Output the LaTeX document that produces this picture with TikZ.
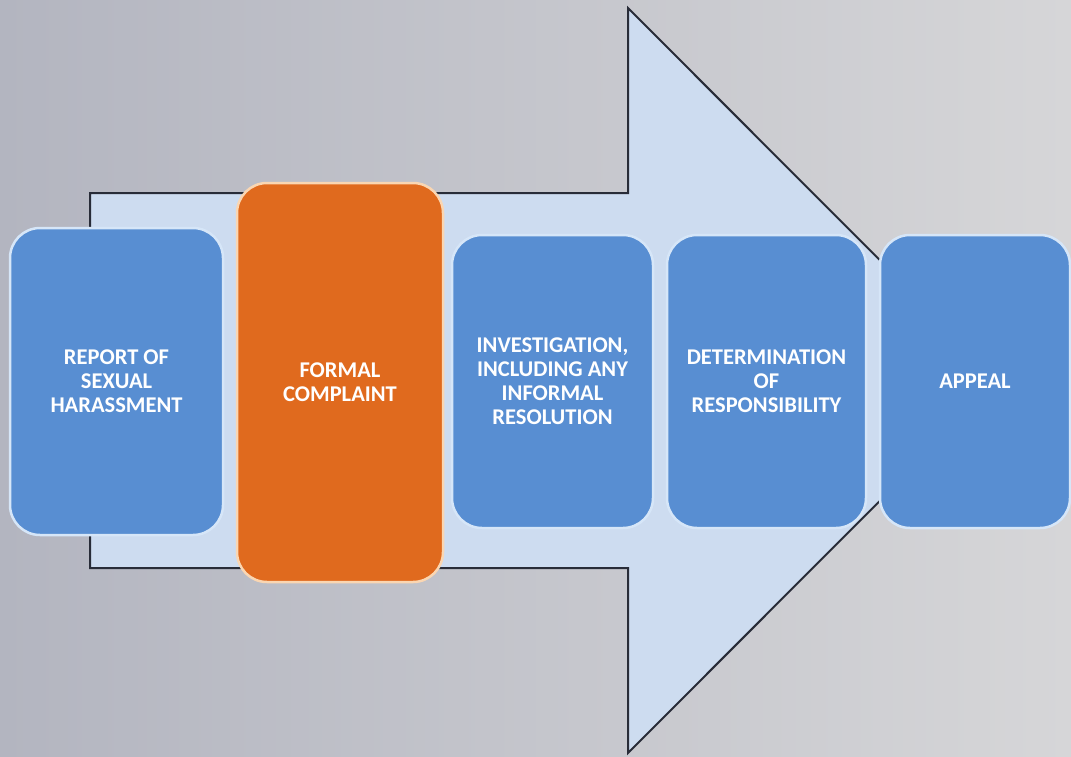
\documentclass[tikz,border=0pt]{standalone}
\usepackage{fontspec}
\setmainfont{Carlito}
\usetikzlibrary{positioning}

\definecolor{bgleft}{RGB}{179,181,192}
\definecolor{bgright}{RGB}{214,214,216}
\definecolor{arrowfill}{RGB}{205,220,240}
\definecolor{arrowline}{RGB}{40,44,56}
\definecolor{stepblue}{RGB}{88,142,210}
\definecolor{stepedge}{RGB}{214,230,248}
\definecolor{steporange}{RGB}{224,106,30}
\definecolor{orangeedge}{RGB}{250,214,178}

\tikzset{
  stepbox/.style={draw=stepedge, line width=2.5pt, fill=stepblue, rounded corners=30pt,
    text=white, font=\fontsize{22.5}{24}\selectfont\bfseries, align=center,
    minimum height=293pt, inner sep=0pt},
  hotbox/.style={stepbox, draw=orangeedge, fill=steporange}
}

\begin{document}
\begin{tikzpicture}[x=1pt,y=-1pt]

  % background
  \shade[left color=bgleft, right color=bgright] (0,0) rectangle (1071,756);
  \useasboundingbox (0,0) rectangle (1071,756);

  % big arrow
  \draw[fill=arrowfill, draw=arrowline, line width=2pt, line join=miter]
    (90,193) -- (628,193) -- (628,8) -- (1000,380.5) -- (628,753) -- (628,568) -- (90,568) -- cycle;

  % the steps
  \node[stepbox, minimum width=213pt, minimum height=307pt] (report) at (116.5,381.5)
    {REPORT OF\\SEXUAL\\HARASSMENT};
  \node[hotbox, minimum width=206pt, minimum height=399pt] (complaint) at (340,382.5)
    {FORMAL\\COMPLAINT};
  \node[stepbox, minimum width=201pt] (investigation) at (552.5,381.5)
    {INVESTIGATION,\\INCLUDING ANY\\INFORMAL\\RESOLUTION};
  \node[stepbox, minimum width=199pt] (determination) at (766.5,381.5)
    {DETERMINATION\\OF\\RESPONSIBILITY};
  \node[stepbox, minimum width=190pt] (appeal) at (975,381.5) {APPEAL};

\end{tikzpicture}
\end{document}
